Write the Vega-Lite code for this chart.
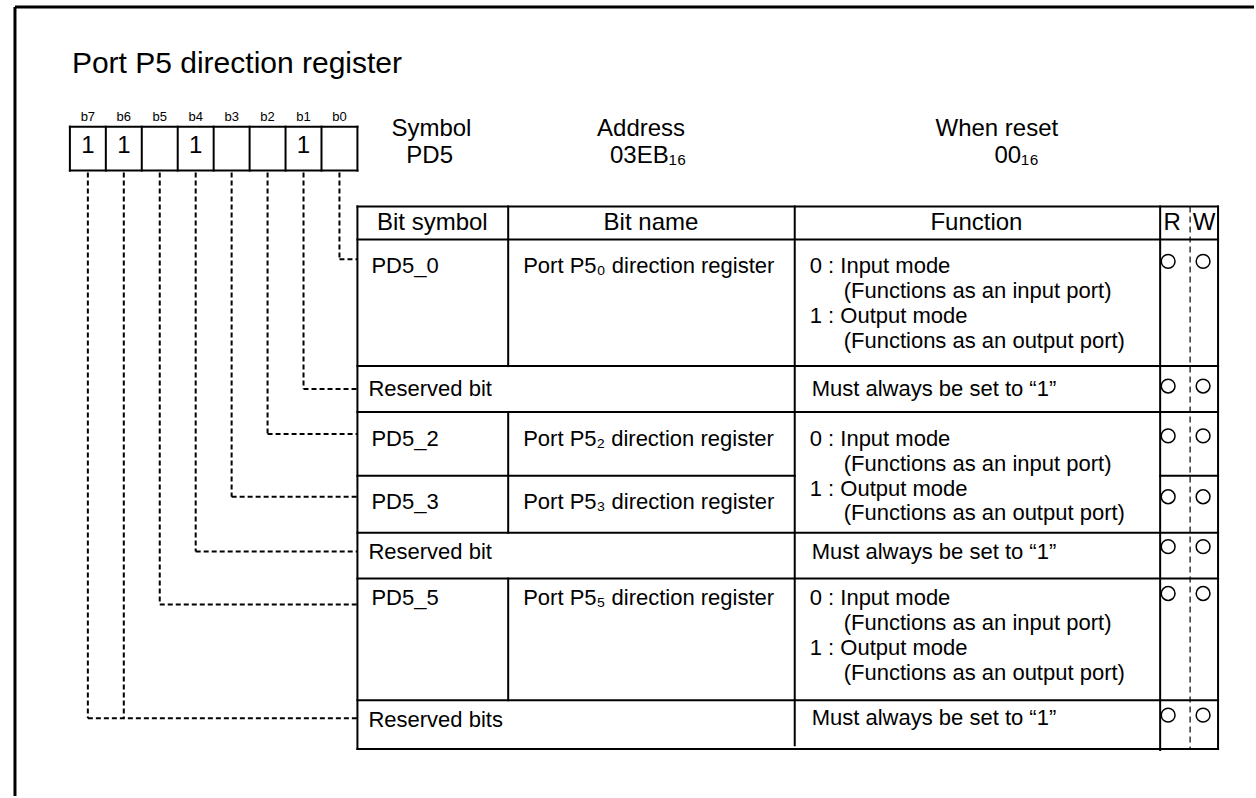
{
  "$schema": "https://vega.github.io/schema/vega-lite/v6.json",
  "width": 1256,
  "height": 798,
  "padding": 0,
  "autosize": {"type": "fit", "contains": "padding"},
  "background": "white",
  "config": {"view": {"stroke": null}, "text": {"font": "Liberation Sans", "color": "black"}},
  "datasets": {
    "lines": [
      {"role": "frame", "x": 15, "y": 7, "x2": 1256, "y2": 7},
      {"role": "frame", "x": 15, "y": 7, "x2": 15, "y2": 798},
      {"role": "grid", "x": 70, "y": 127, "x2": 358, "y2": 127},
      {"role": "grid", "x": 70, "y": 171, "x2": 358, "y2": 171},
      {"role": "grid", "x": 70, "y": 127, "x2": 70, "y2": 171},
      {"role": "grid", "x": 106, "y": 127, "x2": 106, "y2": 171},
      {"role": "grid", "x": 142, "y": 127, "x2": 142, "y2": 171},
      {"role": "grid", "x": 178, "y": 127, "x2": 178, "y2": 171},
      {"role": "grid", "x": 214, "y": 127, "x2": 214, "y2": 171},
      {"role": "grid", "x": 250, "y": 127, "x2": 250, "y2": 171},
      {"role": "grid", "x": 286, "y": 127, "x2": 286, "y2": 171},
      {"role": "grid", "x": 322, "y": 127, "x2": 322, "y2": 171},
      {"role": "grid", "x": 358, "y": 127, "x2": 358, "y2": 171},
      {"role": "grid", "x": 358, "y": 207, "x2": 1220, "y2": 207},
      {"role": "grid", "x": 358, "y": 240, "x2": 1220, "y2": 240},
      {"role": "grid", "x": 358, "y": 367, "x2": 1220, "y2": 367},
      {"role": "grid", "x": 358, "y": 413, "x2": 1220, "y2": 413},
      {"role": "grid", "x": 358, "y": 477, "x2": 796, "y2": 477},
      {"role": "grid", "x": 1162, "y": 477, "x2": 1220, "y2": 477},
      {"role": "grid", "x": 358, "y": 534, "x2": 1220, "y2": 534},
      {"role": "grid", "x": 358, "y": 580, "x2": 1220, "y2": 580},
      {"role": "grid", "x": 358, "y": 702, "x2": 1220, "y2": 702},
      {"role": "grid", "x": 358, "y": 751, "x2": 1220, "y2": 751},
      {"role": "grid", "x": 358, "y": 207, "x2": 358, "y2": 751},
      {"role": "grid", "x": 796, "y": 207, "x2": 796, "y2": 747},
      {"role": "grid", "x": 1162, "y": 207, "x2": 1162, "y2": 752},
      {"role": "grid", "x": 1220, "y": 207, "x2": 1220, "y2": 751},
      {"role": "grid", "x": 509, "y": 207, "x2": 509, "y2": 367},
      {"role": "grid", "x": 509, "y": 413, "x2": 509, "y2": 534},
      {"role": "grid", "x": 509, "y": 580, "x2": 509, "y2": 702},
      {"role": "rw", "x": 1192, "y": 207, "x2": 1192, "y2": 751},
      {"role": "link", "x": 340, "y": 173, "x2": 340, "y2": 260},
      {"role": "link", "x": 340, "y": 260, "x2": 358, "y2": 260},
      {"role": "link", "x": 304, "y": 173, "x2": 304, "y2": 390},
      {"role": "link", "x": 304, "y": 390, "x2": 358, "y2": 390},
      {"role": "link", "x": 268, "y": 173, "x2": 268, "y2": 435},
      {"role": "link", "x": 268, "y": 435, "x2": 358, "y2": 435},
      {"role": "link", "x": 232, "y": 173, "x2": 232, "y2": 498},
      {"role": "link", "x": 232, "y": 498, "x2": 358, "y2": 498},
      {"role": "link", "x": 196, "y": 173, "x2": 196, "y2": 553},
      {"role": "link", "x": 196, "y": 553, "x2": 358, "y2": 553},
      {"role": "link", "x": 160, "y": 173, "x2": 160, "y2": 606},
      {"role": "link", "x": 160, "y": 606, "x2": 358, "y2": 606},
      {"role": "link", "x": 124, "y": 173, "x2": 124, "y2": 720},
      {"role": "link", "x": 88, "y": 173, "x2": 88, "y2": 720},
      {"role": "link", "x": 88, "y": 720, "x2": 358, "y2": 720}
    ],
    "rw": [
      {"bit": "PD5_0", "col": "R", "x": 1170, "y": 262},
      {"bit": "PD5_0", "col": "W", "x": 1205, "y": 262},
      {"bit": "b1", "col": "R", "x": 1170, "y": 387},
      {"bit": "b1", "col": "W", "x": 1205, "y": 387},
      {"bit": "PD5_2", "col": "R", "x": 1170, "y": 437},
      {"bit": "PD5_2", "col": "W", "x": 1205, "y": 437},
      {"bit": "PD5_3", "col": "R", "x": 1170, "y": 498},
      {"bit": "PD5_3", "col": "W", "x": 1205, "y": 498},
      {"bit": "b4", "col": "R", "x": 1170, "y": 548},
      {"bit": "b4", "col": "W", "x": 1205, "y": 548},
      {"bit": "PD5_5", "col": "R", "x": 1170, "y": 595},
      {"bit": "PD5_5", "col": "W", "x": 1205, "y": 595},
      {"bit": "b7b6", "col": "R", "x": 1170, "y": 717},
      {"bit": "b7b6", "col": "W", "x": 1205, "y": 717}
    ],
    "texts": [
      {"role": "title", "x": 72, "y": 64, "text": "Port P5 direction register"},
      {"role": "bitlabel", "x": 88, "y": 117, "text": "b7"},
      {"role": "bitlabel", "x": 124, "y": 117, "text": "b6"},
      {"role": "bitlabel", "x": 160, "y": 117, "text": "b5"},
      {"role": "bitlabel", "x": 196, "y": 117, "text": "b4"},
      {"role": "bitlabel", "x": 232, "y": 117, "text": "b3"},
      {"role": "bitlabel", "x": 268, "y": 117, "text": "b2"},
      {"role": "bitlabel", "x": 304, "y": 117, "text": "b1"},
      {"role": "bitlabel", "x": 340, "y": 117, "text": "b0"},
      {"role": "bitvalue", "x": 88, "y": 146, "text": "1"},
      {"role": "bitvalue", "x": 124, "y": 146, "text": "1"},
      {"role": "bitvalue", "x": 196, "y": 146, "text": "1"},
      {"role": "bitvalue", "x": 304, "y": 146, "text": "1"},
      {"role": "info", "x": 392, "y": 129, "text": "Symbol"},
      {"role": "info", "x": 407, "y": 156, "text": "PD5"},
      {"role": "info", "x": 598, "y": 129, "text": "Address"},
      {"role": "info", "x": 611, "y": 156, "text": "03EB₁₆"},
      {"role": "info", "x": 937, "y": 129, "text": "When reset"},
      {"role": "info", "x": 996, "y": 156, "text": "00₁₆"},
      {"role": "header", "x": 433, "y": 224, "text": "Bit symbol"},
      {"role": "header", "x": 652, "y": 224, "text": "Bit name"},
      {"role": "header", "x": 978, "y": 224, "text": "Function"},
      {"role": "header", "x": 1174, "y": 224, "text": "R"},
      {"role": "header", "x": 1206, "y": 224, "text": "W"},
      {"role": "body", "x": 372, "y": 267, "text": "PD5_0"},
      {"role": "body", "x": 524, "y": 267, "text": "Port P5₀ direction register"},
      {"role": "body", "x": 811, "y": 267, "text": "0 : Input mode"},
      {"role": "body", "x": 845, "y": 292, "text": "(Functions as an input port)"},
      {"role": "body", "x": 811, "y": 317, "text": "1 : Output mode"},
      {"role": "body", "x": 845, "y": 342, "text": "(Functions as an output port)"},
      {"role": "body", "x": 369, "y": 390, "text": "Reserved bit"},
      {"role": "body", "x": 813, "y": 390, "text": "Must always be set to “1”"},
      {"role": "body", "x": 372, "y": 440, "text": "PD5_2"},
      {"role": "body", "x": 524, "y": 440, "text": "Port P5₂ direction register"},
      {"role": "body", "x": 372, "y": 503, "text": "PD5_3"},
      {"role": "body", "x": 524, "y": 503, "text": "Port P5₃ direction register"},
      {"role": "body", "x": 811, "y": 440, "text": "0 : Input mode"},
      {"role": "body", "x": 845, "y": 465, "text": "(Functions as an input port)"},
      {"role": "body", "x": 811, "y": 490, "text": "1 : Output mode"},
      {"role": "body", "x": 845, "y": 514, "text": "(Functions as an output port)"},
      {"role": "body", "x": 369, "y": 553, "text": "Reserved bit"},
      {"role": "body", "x": 813, "y": 553, "text": "Must always be set to “1”"},
      {"role": "body", "x": 372, "y": 600, "text": "PD5_5"},
      {"role": "body", "x": 524, "y": 600, "text": "Port P5₅ direction register"},
      {"role": "body", "x": 811, "y": 600, "text": "0 : Input mode"},
      {"role": "body", "x": 845, "y": 625, "text": "(Functions as an input port)"},
      {"role": "body", "x": 811, "y": 650, "text": "1 : Output mode"},
      {"role": "body", "x": 845, "y": 675, "text": "(Functions as an output port)"},
      {"role": "body", "x": 369, "y": 722, "text": "Reserved bits"},
      {"role": "body", "x": 813, "y": 720, "text": "Must always be set to “1”"}
    ]
  },
  "layer": [
    {
      "data": {"name": "lines"},
      "transform": [{"filter": "datum.role === 'frame'"}],
      "mark": {"type": "rule", "color": "black", "strokeWidth": 3},
      "encoding": {
        "x": {"field": "x", "type": "quantitative", "scale": {"domain": [0, 1256], "nice": false, "zero": false}, "axis": null},
        "x2": {"field": "x2"},
        "y": {"field": "y", "type": "quantitative", "scale": {"domain": [0, 798], "nice": false, "zero": false, "reverse": true}, "axis": null},
        "y2": {"field": "y2"}
      }
    },
    {
      "data": {"name": "lines"},
      "transform": [{"filter": "datum.role === 'grid'"}],
      "mark": {"type": "rule", "color": "black", "strokeWidth": 2, "strokeCap": "square"},
      "encoding": {
        "x": {"field": "x", "type": "quantitative", "axis": null},
        "x2": {"field": "x2"},
        "y": {"field": "y", "type": "quantitative", "axis": null},
        "y2": {"field": "y2"}
      }
    },
    {
      "data": {"name": "lines"},
      "transform": [{"filter": "datum.role === 'rw'"}],
      "mark": {"type": "rule", "color": "black", "strokeWidth": 1.2, "strokeDash": [6, 4]},
      "encoding": {
        "x": {"field": "x", "type": "quantitative", "axis": null},
        "x2": {"field": "x2"},
        "y": {"field": "y", "type": "quantitative", "axis": null},
        "y2": {"field": "y2"}
      }
    },
    {
      "data": {"name": "lines"},
      "transform": [{"filter": "datum.role === 'link'"}],
      "mark": {"type": "rule", "color": "black", "strokeWidth": 2, "strokeDash": [5, 3]},
      "encoding": {
        "x": {"field": "x", "type": "quantitative", "axis": null},
        "x2": {"field": "x2"},
        "y": {"field": "y", "type": "quantitative", "axis": null},
        "y2": {"field": "y2"}
      }
    },
    {
      "data": {"name": "rw"},
      "mark": {"type": "point", "shape": "circle", "filled": false, "color": "black", "strokeWidth": 1.5, "size": 190, "opacity": 1},
      "encoding": {
        "x": {"field": "x", "type": "quantitative", "axis": null},
        "y": {"field": "y", "type": "quantitative", "axis": null}
      }
    },
    {
      "data": {"name": "texts"},
      "transform": [{"filter": "datum.role === 'title'"}],
      "mark": {"type": "text", "fontSize": 30, "align": "left", "baseline": "middle"},
      "encoding": {
        "x": {"field": "x", "type": "quantitative", "axis": null},
        "y": {"field": "y", "type": "quantitative", "axis": null},
        "text": {"field": "text"}
      }
    },
    {
      "data": {"name": "texts"},
      "transform": [{"filter": "datum.role === 'bitlabel'"}],
      "mark": {"type": "text", "fontSize": 13, "align": "center", "baseline": "middle"},
      "encoding": {
        "x": {"field": "x", "type": "quantitative", "axis": null},
        "y": {"field": "y", "type": "quantitative", "axis": null},
        "text": {"field": "text"}
      }
    },
    {
      "data": {"name": "texts"},
      "transform": [{"filter": "datum.role === 'bitvalue'"}],
      "mark": {"type": "text", "fontSize": 24, "align": "center", "baseline": "middle"},
      "encoding": {
        "x": {"field": "x", "type": "quantitative", "axis": null},
        "y": {"field": "y", "type": "quantitative", "axis": null},
        "text": {"field": "text"}
      }
    },
    {
      "data": {"name": "texts"},
      "transform": [{"filter": "datum.role === 'info'"}],
      "mark": {"type": "text", "fontSize": 24, "align": "left", "baseline": "middle"},
      "encoding": {
        "x": {"field": "x", "type": "quantitative", "axis": null},
        "y": {"field": "y", "type": "quantitative", "axis": null},
        "text": {"field": "text"}
      }
    },
    {
      "data": {"name": "texts"},
      "transform": [{"filter": "datum.role === 'header'"}],
      "mark": {"type": "text", "fontSize": 24, "align": "center", "baseline": "middle"},
      "encoding": {
        "x": {"field": "x", "type": "quantitative", "axis": null},
        "y": {"field": "y", "type": "quantitative", "axis": null},
        "text": {"field": "text"}
      }
    },
    {
      "data": {"name": "texts"},
      "transform": [{"filter": "datum.role === 'body'"}],
      "mark": {"type": "text", "fontSize": 22, "align": "left", "baseline": "middle"},
      "encoding": {
        "x": {"field": "x", "type": "quantitative", "axis": null},
        "y": {"field": "y", "type": "quantitative", "axis": null},
        "text": {"field": "text"}
      }
    }
  ]
}
